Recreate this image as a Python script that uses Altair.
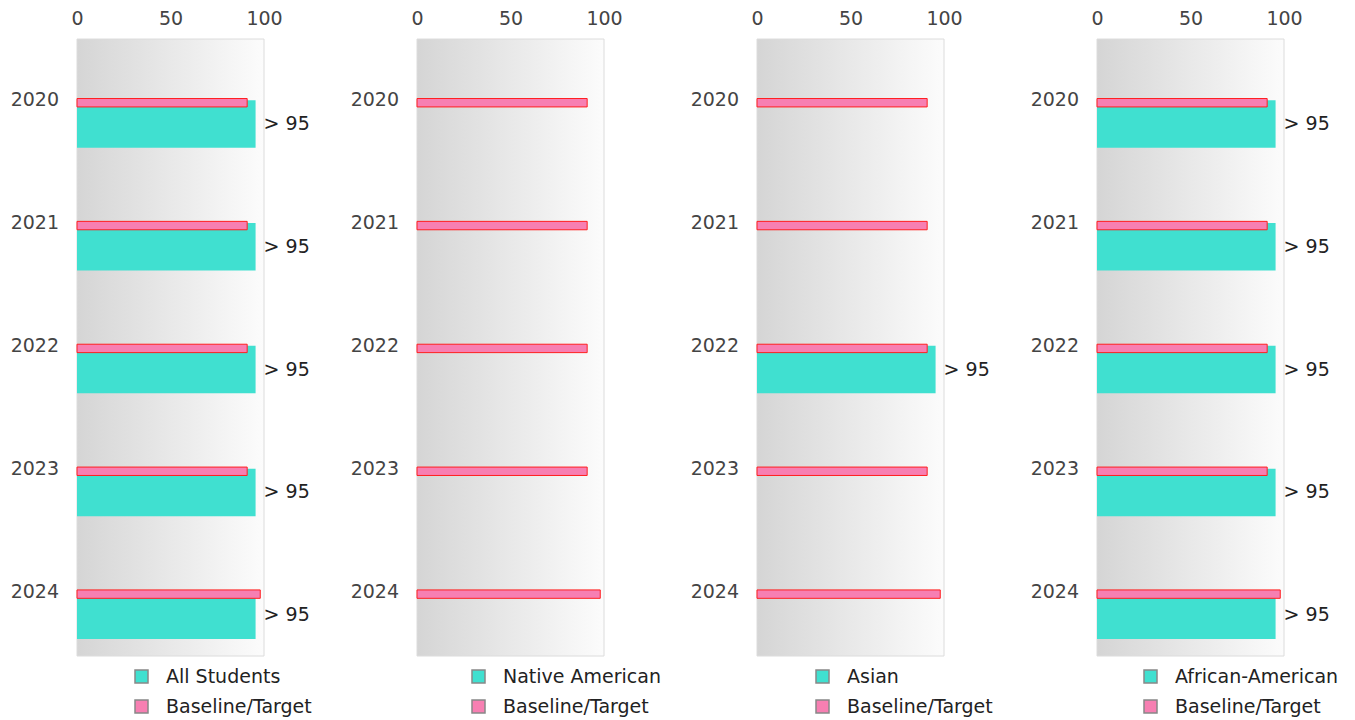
import altair as alt
import pandas as pd

years = ["2020", "2021", "2022", "2023", "2024"]
panel_names = ["All Students", "Native American", "Asian", "African-American"]
all_students = [95.5, 95.5, 95.5, 95.5, 95.5]
native_american = [None, None, None, None, None]
asian = [None, None, 95.5, None, None]
african_american = [95.5, 95.5, 95.5, 95.5, 95.5]
baseline_target = [91, 91, 91, 91, 98]
rate_labels = ["> 95", "> 95", "> 95", "> 95", "> 95"]
baseline_name = "Baseline/Target"

TEAL = "#40e0d0"
PINK = "#f77fb2"
RED = "#ff1f1f"
W, H = 187, 617
FONT = "DejaVu Sans"
FS = 19

legend_x = [55, 52, 56, 44]

gradient = alt.Gradient(
    gradient="linear",
    stops=[alt.GradientStop(offset=0, color="#d5d5d5"),
           alt.GradientStop(offset=1, color="#fcfcfc")],
    x1=0, x2=1, y1=0, y2=0,
)


def panel(name, values, lx):
    df_bar = pd.DataFrame({"year": years, "value": values, "series": name, "label": rate_labels})
    df_bar = df_bar.dropna(subset=["value"])
    df_base = pd.DataFrame({"year": years, "value": baseline_target, "series": baseline_name})

    x = alt.X("value:Q", title=None,
              scale=alt.Scale(domain=[0, 100], nice=False),
              axis=alt.Axis(orient="top", values=[0, 50, 100], ticks=False, domain=False, grid=False,
                            labelFlush=False, labelPadding=11, labelFontSize=FS, labelColor="#444",
                            labelFont=FONT))
    y = alt.Y("year:O", title=None,
              scale=alt.Scale(domain=years, paddingInner=0, paddingOuter=0.0112, align=0),
              axis=alt.Axis(ticks=False, domain=False, labelPadding=18.5, labelFontSize=FS,
                            labelColor="#444", labelFont=FONT))

    bg = alt.Chart(pd.DataFrame({"a": [0]})).mark_rect(
        fill=gradient, stroke="#dcdcdc", strokeWidth=1
    ).encode(x=alt.value(0), x2=alt.value(W), y=alt.value(0), y2=alt.value(H))

    teal = alt.Chart(df_bar).mark_bar(size=47.5, yOffset=23.5).encode(
        x=x, y=y,
        color=alt.Color("series:N",
                        scale=alt.Scale(domain=[name, baseline_name], range=[TEAL, PINK]),
                        legend=alt.Legend(title=None, orient="none", legendX=lx, legendY=628,
                                          direction="vertical", symbolType="square", symbolSize=169,
                                          symbolStrokeColor="#888888", symbolStrokeWidth=1.5,
                                          labelFontSize=FS, labelColor="#222", labelFont=FONT,
                                          labelLimit=0, labelOffset=15, rowPadding=10, padding=0)),
    )

    pink = alt.Chart(df_base).mark_bar(size=8.4, yOffset=2.3, fill=PINK, stroke=RED, strokeWidth=1).encode(
        x=x, y=y
    )

    text = alt.Chart(df_bar).mark_text(align="left", baseline="middle", dx=8, yOffset=23.5,
                                       fontSize=FS, color="#222", font=FONT).encode(
        x=x, y=y, text="label:N"
    )

    return alt.layer(bg, teal, pink, text).properties(width=W, height=H)


panels = [panel(n, v, lx) for n, v, lx in zip(panel_names,
                                              [all_students, native_american, asian, african_american],
                                              legend_x)]

chart = alt.hconcat(*panels, spacing=153, bounds="flush").resolve_scale(
    color="independent", x="independent", y="independent"
).resolve_legend(color="independent").configure(
    padding={"left": 2, "top": 1, "right": 5, "bottom": 5}, font=FONT
).configure_view(stroke=None)

chart.save("out.html", embed_options={"renderer": "svg", "actions": False})
